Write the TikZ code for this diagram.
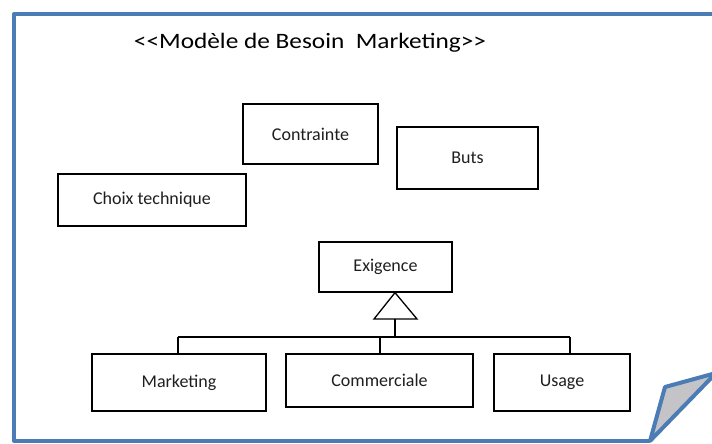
\documentclass[tikz,border=0pt]{standalone}
\usepackage{fontspec}
\setmainfont{Carlito}
\definecolor{frameblue}{RGB}{76,124,182}
\definecolor{foldgray}{RGB}{196,196,200}
\begin{document}
\begin{tikzpicture}[x=1pt,y=-1pt,
  box/.style={draw=black, line width=1.3pt, inner sep=0pt, text=black!88,
    font=\fontsize{18}{20}\selectfont},
  conn/.style={draw=black, line width=1.3pt},
  framepen/.style={draw=frameblue, line width=4pt}]
\useasboundingbox (0,0) rectangle (712,444);
\fill[white] (0,0) rectangle (712,444);
% frame
\coordinate (ftr) at (716,14);
\coordinate (ftl) at (14,14);
\coordinate (fbl) at (14,441);
\coordinate (fbr) at (650,441);
\draw[framepen, line join=round] (ftr) -- (ftl) -- (fbl) -- (fbr);
% title
\node[font=\fontsize{22}{24}\selectfont, text=black] (title) at (310,43)
  {\scalebox{1.15}[1]{<\kern0pt<Modèle de Besoin\ \ Marketing>\kern0pt>}};
% boxes
\node[box, minimum width=135pt, minimum height=60pt] (contrainte) at (310.5,134) {Contrainte};
\node[box, minimum width=141pt, minimum height=62pt] (buts) at (467.5,158) {Buts\hspace{28pt}};
\node[box, minimum width=188pt, minimum height=52pt] (choix) at (152,200) {Choix technique};
\node[box, minimum width=133pt, minimum height=50pt] (exigence) at (385.5,267) {Exigence};
\node[box, minimum width=174pt, minimum height=57pt] (marketing) at (179,382.5) {Marketing};
\node[box, minimum width=187pt, minimum height=53pt] (commerciale) at (379.5,380.5) {Commerciale};
\node[box, minimum width=136pt, minimum height=57pt] (usage) at (562,382.5) {Usage\hspace{10pt}};
% generalization
\coordinate (apex) at (exigence.south -| 395,0);
\coordinate (tbase) at (395,319);
\coordinate (busy) at (0,337);
\coordinate (busL) at (178,337);
\coordinate (busC) at (380,337);
\coordinate (busR) at (570,337);
\draw[conn, line join=miter] (apex) -- (374,319) -- (417,319) -- cycle;
\draw[conn] (tbase) -- (tbase |- busy);
\draw[conn] (busL) -- (busR);
\draw[conn] (busL) -- (busL |- marketing.north);
\draw[conn] (busC) -- (busC |- commerciale.north);
\draw[conn] (busR) -- (busR |- usage.north);
% page fold
\coordinate (f1) at (650,441);
\coordinate (f2) at (665,387);
\coordinate (f3) at (716,373);
\filldraw[fill=foldgray, framepen, line join=round] (f1) -- (f2) -- (f3) -- cycle;
\end{tikzpicture}
\end{document}
